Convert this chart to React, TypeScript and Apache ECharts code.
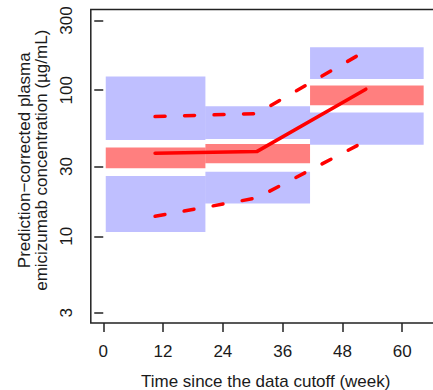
import React, { useEffect, useRef } from "react";
import * as echarts from "echarts";

// Time bins (weeks) used for the prediction intervals
const binStart = [0.5, 20.5, 41.5];
const binEnd = [20.5, 41.5, 64.3];

// Simulated 90% PI of the 95th percentile (upper band)
const upperBandLo = [45.7, 46.4, 119.6];
const upperBandHi = [124, 77.8, 197];
// Simulated 90% PI of the median (middle band)
const medianBandLo = [29.2, 31.6, 78.8];
const medianBandHi = [40.6, 42.9, 107.6];
// Simulated 90% PI of the 5th percentile (lower band)
const lowerBandLo = [10.7, 16.8, 42.4];
const lowerBandHi = [25.9, 27.7, 70.3];

// Observed percentiles at the bin mid-times
const obsTime = [10.4, 30.8, 52.7];
const obsMedian = [37.1, 38.0, 101.7];
const obsP95 = [66.0, 69.2, 186];
const obsP05 = [13.7, 18.3, 44.9];

// Axis ticks
const xTicks = [0, 12, 24, 36, 48, 60];
const yTicks = [3, 10, 30, 100, 300];

const FONT = "'Liberation Sans', Arial, sans-serif";
const TEXT = "#1a1a1a";

function bandRows(lo: number[], hi: number[]) {
  return binStart.map((s, i) => [s, binEnd[i], lo[i], hi[i]]);
}

function bandSeries(lo: number[], hi: number[], color: string) {
  return {
    type: "custom",
    data: bandRows(lo, hi),
    encode: { x: [0, 1], y: [2, 3] },
    silent: true,
    renderItem: (_params: any, api: any) => {
      const p0 = api.coord([api.value(0), api.value(3)]);
      const p1 = api.coord([api.value(1), api.value(2)]);
      return {
        type: "rect",
        shape: { x: p0[0], y: p0[1], width: p1[0] - p0[0], height: p1[1] - p0[1] },
        style: { fill: color },
      };
    },
  };
}

function lineSeries(values: number[], dashed: boolean) {
  return {
    type: "line",
    data: obsTime.map((t, i) => [t, values[i]]),
    symbol: "none",
    silent: true,
    lineStyle: {
      color: "#ff0000",
      width: 3.5,
      cap: "round",
      join: "round",
      type: dashed ? [10, 19.5] : "solid",
    },
  };
}

export default function App() {
  const ref = useRef<HTMLDivElement>(null);

  useEffect(() => {
    if (!ref.current) return;
    const chart = echarts.init(ref.current, undefined, { renderer: "svg" });
    chart.setOption({
      animation: false,
      backgroundColor: "#ffffff",
      grid: {
        left: 90.8,
        top: 9.5,
        width: 349.8,
        height: 313.5,
        show: true,
        borderColor: "#222",
        borderWidth: 1.5,
        containLabel: false,
        outerBoundsMode: "none",
      },
      xAxis: {
        type: "value",
        min: -2.5,
        max: 67.7,
        axisLine: { show: false },
        splitLine: { show: false },
        axisTick: {
          show: true,
          length: 9,
          customValues: xTicks,
          lineStyle: { color: "#222", width: 1.5 },
        },
        axisLabel: {
          customValues: xTicks,
          margin: 20,
          fontSize: 17,
          fontFamily: FONT,
          color: TEXT,
        },
        name: "Time since the data cutoff (week)",
        nameLocation: "middle",
        nameGap: 49.5,
        nameTextStyle: { fontSize: 17, fontFamily: FONT, color: TEXT },
      },
      yAxis: {
        type: "log",
        logBase: 10,
        min: 2.55,
        max: 357,
        axisLine: { show: false },
        splitLine: { show: false },
        axisTick: {
          show: true,
          length: 9,
          customValues: yTicks,
          lineStyle: { color: "#222", width: 1.5 },
        },
        axisLabel: {
          customValues: yTicks,
          rotate: 90,
          margin: 16,
          fontSize: 17,
          fontFamily: FONT,
          color: TEXT,
        },
        name: "Prediction\u2212corrected plasma\nemicizumab concentration (\u00b5g/mL)",
        nameLocation: "middle",
        nameRotate: 90,
        nameGap: 36.5,
        nameTextStyle: {
          fontSize: 17,
          lineHeight: 17,
          fontFamily: FONT,
          color: TEXT,
          align: "center",
          padding: [0, 0, 0, 12],
        },
      },
      series: [
        bandSeries(upperBandLo, upperBandHi, "rgba(0,0,255,0.25)"),
        bandSeries(medianBandLo, medianBandHi, "rgba(255,0,0,0.5)"),
        bandSeries(lowerBandLo, lowerBandHi, "rgba(0,0,255,0.25)"),
        lineSeries(obsP95, true),
        lineSeries(obsMedian, false),
        lineSeries(obsP05, true),
      ],
    });
    return () => chart.dispose();
  }, []);

  return (
    <div
      ref={ref}
      style={{ position: "fixed", left: 0, top: 0, width: 433, height: 390 }}
    />
  );
}
